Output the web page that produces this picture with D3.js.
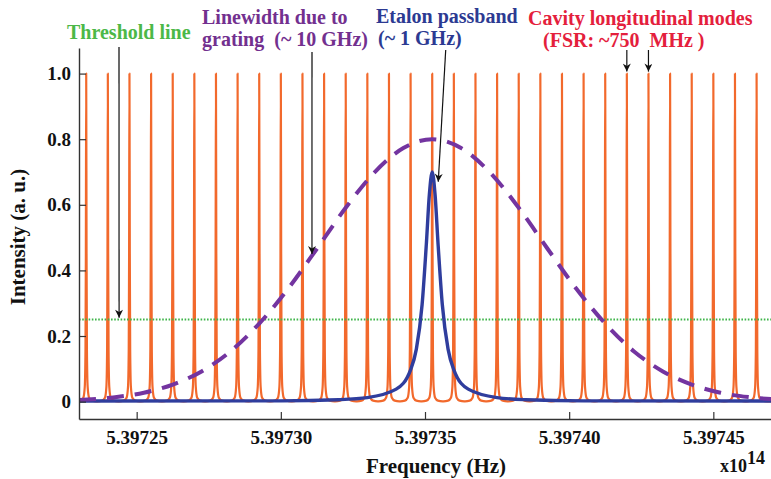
<!DOCTYPE html>
<html>
<head>
<meta charset="utf-8">
<script src="https://cdn.jsdelivr.net/npm/d3@7"></script>
<style>
  html, body { margin: 0; padding: 0; background: #ffffff; }
  svg { display: block; }
  text { font-family: "Liberation Serif", "Times New Roman", serif; font-weight: bold; }
  .pre { white-space: pre; }
</style>
</head>
<body>
<svg id="chart" width="771" height="479"></svg>
<script>
// ---- Data (frequencies in units of 10^14 Hz, intensity in a.u.) ----

// Cavity longitudinal modes (FSR ~ 750 MHz)
const modeFreqs = [
  5.3972325, 5.39724, 5.3972475, 5.397255, 5.3972625, 5.39727, 5.3972775, 5.397285,
  5.3972925, 5.39730, 5.3973075, 5.397315, 5.3973225, 5.39733, 5.3973375, 5.397345,
  5.3973525, 5.39736, 5.3973675, 5.397375, 5.3973825, 5.39739, 5.3973975, 5.397405,
  5.3974125, 5.39742, 5.3974275, 5.397435, 5.3974425, 5.39745, 5.3974575, 5.397465
];
const modeHeights = [
  1, 1, 1, 1, 1, 1, 1, 1, 1, 1, 1, 1, 1, 1, 1, 1,
  1, 1, 1, 1, 1, 1, 1, 1, 1, 1, 1, 1, 1, 1, 1, 1
];
// Line shape of a single mode: offset from mode centre and fraction of its height
const modeShapeOffset = [-3.6e-6, -2e-6, -1e-6, -5e-7, -2.5e-7, -1.2e-7, 0, 1.2e-7, 2.5e-7, 5e-7, 1e-6, 2e-6, 3.6e-6];
const modeShapeLevel  = [0.001, 0.003, 0.012, 0.045, 0.16, 0.45, 1, 0.45, 0.16, 0.045, 0.012, 0.003, 0.001];

// Etalon passband (~1 GHz)
const etalonFreq = [
  5.39723, 5.39730, 5.39732, 5.39733, 5.39734, 5.397345, 5.397347, 5.397349, 5.3973505, 5.3973515,
  5.3973525,
  5.3973535, 5.3973545, 5.397356, 5.397358, 5.39736, 5.397365, 5.397375, 5.397385, 5.397405, 5.39747
];
const etalonLevel = [
  0.002, 0.0023, 0.0059, 0.0122, 0.038, 0.097, 0.16, 0.296, 0.485, 0.63,
  0.70,
  0.63, 0.485, 0.296, 0.16, 0.097, 0.038, 0.0122, 0.0059, 0.0023, 0.002
];

// Linewidth set by the grating (~10 GHz)
const gratingFreq = [
  5.39723, 5.3972425, 5.3972525, 5.3972625, 5.3972725, 5.3972825, 5.3972925, 5.3973025,
  5.3973125, 5.3973225, 5.3973325, 5.3973425, 5.3973525, 5.3973625, 5.3973725, 5.3973825,
  5.3973925, 5.3974025, 5.3974125, 5.3974225, 5.3974325, 5.3974425, 5.3974525, 5.3974625, 5.39747
];
const gratingLevel = [
  0.005, 0.0135, 0.027, 0.052, 0.092, 0.153, 0.238, 0.344,
  0.466, 0.591, 0.699, 0.773, 0.80, 0.773, 0.699, 0.591,
  0.466, 0.344, 0.238, 0.153, 0.092, 0.052, 0.027, 0.0135, 0.0076
];

// Lasing threshold
const thresholdLevel = 0.25;

// Axes
const xTickValues = [5.39725, 5.39730, 5.39735, 5.39740, 5.39745];
const xTickLabels = ["5.39725", "5.39730", "5.39735", "5.39740", "5.39745"];
const yTickValues = [0, 0.2, 0.4, 0.6, 0.8, 1.0];
const yTickLabels = ["0", "0.2", "0.4", "0.6", "0.8", "1.0"];

// ---- Drawing ----
const svg = d3.select("#chart");
const plot = { left: 79, right: 771, top: 48, bottom: 419 };

const x = d3.scaleLinear().domain([5.39723, 5.39747]).range([plot.left, plot.right]);
const y = d3.scaleLinear().domain([-0.053, 1.078]).range([plot.bottom, plot.top]);

const colors = {
  mode: "#f2692c",
  etalon: "#2f3d9d",
  grating: "#7334a0",
  threshold: "#3fb54a",
  axis: "#333333",
  gratingText: "#73308f",
  etalonText: "#2c3a92",
  modeText: "#e4203c",
  thresholdText: "#4cb848"
};

const defs = svg.append("defs");
defs.append("clipPath").attr("id", "plot-clip")
  .append("rect")
  .attr("x", plot.left).attr("y", plot.top - 2)
  .attr("width", plot.right - plot.left).attr("height", plot.bottom - plot.top + 2);

defs.append("marker")
  .attr("id", "arrowhead")
  .attr("viewBox", "0 0 10 10")
  .attr("refX", 10).attr("refY", 5)
  .attr("markerUnits", "userSpaceOnUse")
  .attr("markerWidth", 9).attr("markerHeight", 8)
  .attr("orient", "auto")
  .append("path").attr("d", "M0,0 L10,5 L0,10 L3,5 Z").attr("fill", "#111");

const g = svg.append("g").attr("clip-path", "url(#plot-clip)");

// Comb of cavity modes as one continuous trace
const combPoints = [[x.domain()[0], 0.001]];
modeFreqs.forEach((f, i) => {
  modeShapeOffset.forEach((o, j) => {
    combPoints.push([f + o, modeHeights[i] * modeShapeLevel[j]]);
  });
});
combPoints.push([x.domain()[1], 0.001]);

const line = d3.line()
  .x(d => x(d[0]))
  .y(d => y(d[1]))
  .curve(d3.curveMonotoneX);

g.append("path")
  .datum(combPoints)
  .attr("d", line)
  .attr("fill", "none")
  .attr("stroke", colors.mode)
  .attr("stroke-width", 2.2)
  .attr("stroke-linejoin", "round");

// Threshold
g.append("line")
  .attr("x1", plot.left).attr("x2", plot.right)
  .attr("y1", y(thresholdLevel)).attr("y2", y(thresholdLevel))
  .attr("stroke", colors.threshold)
  .attr("stroke-width", 2)
  .attr("stroke-dasharray", "1.6,1.6");

// Etalon passband
g.append("path")
  .datum(etalonFreq.map((f, i) => [f, etalonLevel[i]]))
  .attr("d", line)
  .attr("fill", "none")
  .attr("stroke", colors.etalon)
  .attr("stroke-width", 3.4);

// Grating envelope
g.append("path")
  .datum(gratingFreq.map((f, i) => [f, gratingLevel[i]]))
  .attr("d", line)
  .attr("fill", "none")
  .attr("stroke", colors.grating)
  .attr("stroke-width", 4)
  .attr("stroke-dasharray", "17,11");

// Axes
const xAxis = d3.axisBottom(x)
  .tickValues(xTickValues)
  .tickFormat((d, i) => xTickLabels[i])
  .tickSizeInner(-7).tickSizeOuter(0).tickPadding(12);
const yAxis = d3.axisLeft(y)
  .tickValues(yTickValues)
  .tickFormat((d, i) => yTickLabels[i])
  .tickSizeInner(-7).tickSizeOuter(0).tickPadding(8);

const gx = svg.append("g").attr("transform", `translate(0,${plot.bottom})`).call(xAxis);
const gy = svg.append("g").attr("transform", `translate(${plot.left},0)`).call(yAxis);
[gx, gy].forEach(a => {
  a.select(".domain").attr("stroke", colors.axis).attr("stroke-width", 1.4);
  a.selectAll(".tick line").attr("stroke", colors.axis).attr("stroke-width", 1.2);
  a.selectAll(".tick text")
    .attr("fill", "#111")
    .style("font-family", "\"Liberation Serif\", \"Times New Roman\", serif")
    .style("font-weight", "bold")
    .style("font-size", "19px");
});

// Axis titles
svg.append("text")
  .attr("x", 436).attr("y", 473)
  .attr("text-anchor", "middle")
  .style("font-size", "21px").attr("fill", "#111")
  .text("Frequency (Hz)");

svg.append("text")
  .attr("transform", "translate(25,237) rotate(-90)")
  .attr("text-anchor", "middle")
  .style("font-size", "21px").attr("fill", "#111")
  .text("Intensity (a. u.)");

const expo = svg.append("text").attr("x", 720).attr("y", 472)
  .style("font-size", "18px").attr("fill", "#111");
expo.append("tspan").text("x10");
expo.append("tspan").attr("dy", -8).text("14");

// Annotations
function label(lines, xs, ys, color) {
  lines.forEach((t, i) => {
    svg.append("text")
      .attr("class", "pre")
      .attr("x", xs[i]).attr("y", ys[i])
      .style("font-size", "20px")
      .attr("fill", color)
      .text(t);
  });
}
label(["Threshold line"], [67], [39], colors.thresholdText);
label(["Linewidth due to", "grating  (~ 10 GHz)"], [202, 202], [24, 46], colors.gratingText);
label(["Etalon passband", "(~ 1 GHz)"], [376, 378], [23, 45], colors.etalonText);
label(["Cavity longitudinal modes", "(FSR: ~750  MHz )"], [528, 543], [25, 47], colors.modeText);

// Arrows: start in page space, tip on the feature in data space
const arrows = [
  { x0: 119, y0: 47, f: 5.3972439, v: thresholdLevel + 0.006 },
  { x0: 312, y0: 52, f: 5.3973108, v: 0.45 },
  { x0: 445.7, y0: 50, f: 5.3973546, v: 0.67 },
  { x0: null, y0: 50, f: modeFreqs[25], v: 1.006 },
  { x0: null, y0: 50, f: modeFreqs[26], v: 1.006 }
];
arrows.forEach(a => {
  const xt = x(a.f);
  svg.append("line")
    .attr("x1", a.x0 == null ? xt : a.x0).attr("y1", a.y0)
    .attr("x2", xt).attr("y2", y(a.v))
    .attr("stroke", "#111")
    .attr("stroke-width", 1.2)
    .attr("marker-end", "url(#arrowhead)");
});
</script>
</body>
</html>
